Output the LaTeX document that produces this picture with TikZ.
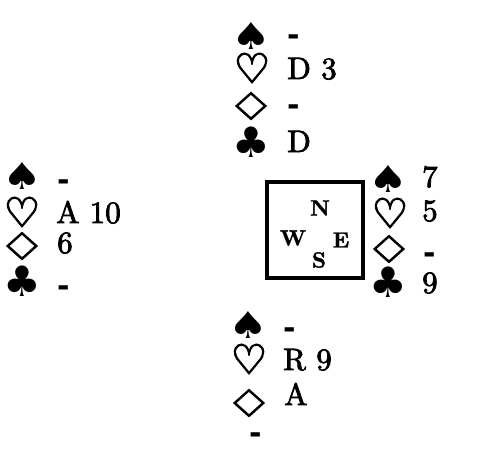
\documentclass[tikz,border=0pt]{standalone}
\usepackage{fontspec}
\newfontfamily\suitfont{DejaVu Sans}
\newfontfamily\dashfont{DejaVu Sans}
\newfontfamily\cardfont{lmroman10-regular.otf}[FakeBold=2.5]
\newfontfamily\dirfont{lmroman10-bold.otf}[FakeBold=1.5]
\tikzset{
  suit/.style={inner sep=0pt, anchor=center, font=\suitfont\fontsize{37}{37}\selectfont},
  bigsuit/.style={inner sep=0pt, anchor=center, font=\suitfont\fontsize{42}{42}\selectfont},
  osuit/.style={inner sep=0pt, anchor=center, font=\suitfont\fontsize{37}{37}\selectfont\addfontfeature{FakeBold=3}},
  bigosuit/.style={inner sep=0pt, anchor=center, font=\suitfont\fontsize{41}{41}\selectfont\addfontfeature{FakeBold=3}},
  card/.style={inner sep=0pt, anchor=base west, font=\cardfont\fontsize{31}{31}\selectfont},
  voidmark/.style={inner sep=0pt, anchor=base west, font=\dashfont\fontsize{30}{30}\selectfont\bfseries},
  dir/.style={inner sep=0pt, anchor=center, font=\dirfont\fontsize{22}{22}\selectfont},
}
\newcommand{\widediam}{\scalebox{1.45}[1]{♢}}
\newcommand{\widespade}{\scalebox{1.2}[1]{♠}}
\begin{document}
\begin{tikzpicture}[x=1pt,y=-1pt]
\useasboundingbox (0,0) rectangle (502,465);
% North
\node[suit] (ns) at (251,36) {\widespade};
\node[bigosuit] (nh) at (252,68) {♡};
\node[osuit] (nd) at (251,106) {\widediam};
\node[bigsuit] (nc) at (251,142) {♣};
\node[voidmark] (nst) at (287,46) {-};
\node[card] (nht) at (287,79) {D 3};
\node[voidmark] (ndt) at (287,116) {-};
\node[card] (nct) at (287,152) {D};
% West
\node[suit] (ws) at (22,176) {\widespade};
\node[bigosuit] (wh) at (22,212) {♡};
\node[osuit] (wd) at (22,246) {\widediam};
\node[bigsuit] (wc) at (22,281) {♣};
\node[voidmark] (wst) at (57,190) {-};
\node[card] (wht) at (56,223) {A 10};
\node[card] (wdt) at (57,253) {6};
\node[voidmark] (wct) at (57,296) {-};
% East
\node[suit] (es) at (388,179) {\widespade};
\node[bigosuit] (eh) at (390,213) {♡};
\node[osuit] (ed) at (389,249) {\widediam};
\node[bigsuit] (ec) at (388,282) {♣};
\node[card] (est) at (422,187) {7};
\node[card] (eht) at (422,221) {5};
\node[voidmark] (edt) at (423,263) {-};
\node[card] (ect) at (422,293) {9};
% South
\node[suit] (ss) at (248,325) {\widespade};
\node[bigosuit] (sh) at (249,359) {♡};
\node[osuit] (sd) at (249,403) {\widediam};
\node[voidmark] (sst) at (283,338) {-};
\node[card] (sht) at (283,370) {R 9};
\node[card] (sdt) at (284,405) {A};
\node[voidmark] (sxt) at (249,443) {-};
% Table
\draw[line width=4.5pt] (267,182) rectangle (363,278);
\node[dir] (N) at (320,208) {N};
\node[dir] (W) at (293,238) {W};
\node[dir] (E) at (341,240) {E};
\node[dir] (S) at (319,260) {S};
\end{tikzpicture}
\end{document}
